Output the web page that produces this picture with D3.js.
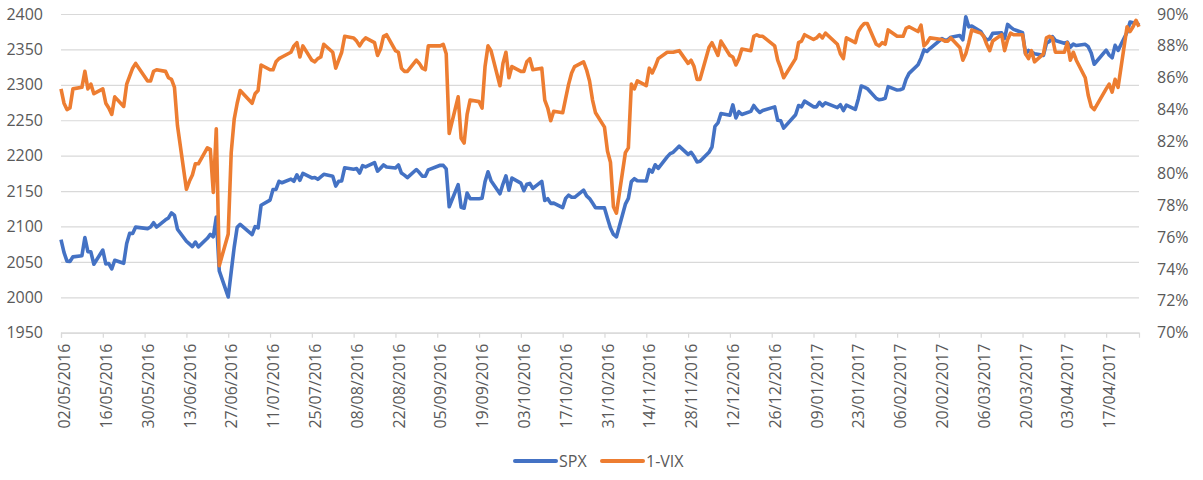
<!DOCTYPE html>
<html>
<head>
<meta charset="utf-8">
<script src="https://cdn.jsdelivr.net/npm/d3@7"></script>
<style>
  body { margin: 0; background: #fff; }
  svg text { font-family: "Open Sans", sans-serif; fill: #595959; }
</style>
</head>
<body>
<div id="chart"></div>
<script>
(function(){
// trading days, one line per month
var dates = [
  "02/05/2016","03/05/2016","04/05/2016","05/05/2016","06/05/2016","09/05/2016","10/05/2016","11/05/2016","12/05/2016","13/05/2016","16/05/2016","17/05/2016","18/05/2016","19/05/2016","20/05/2016","23/05/2016","24/05/2016","25/05/2016","26/05/2016","27/05/2016","31/05/2016",
  "01/06/2016","02/06/2016","03/06/2016","06/06/2016","07/06/2016","08/06/2016","09/06/2016","10/06/2016","13/06/2016","14/06/2016","15/06/2016","16/06/2016","17/06/2016","20/06/2016","21/06/2016","22/06/2016","23/06/2016","24/06/2016","27/06/2016","28/06/2016","29/06/2016","30/06/2016",
  "01/07/2016","05/07/2016","06/07/2016","07/07/2016","08/07/2016","11/07/2016","12/07/2016","13/07/2016","14/07/2016","15/07/2016","18/07/2016","19/07/2016","20/07/2016","21/07/2016","22/07/2016","25/07/2016","26/07/2016","27/07/2016","28/07/2016","29/07/2016",
  "01/08/2016","02/08/2016","03/08/2016","04/08/2016","05/08/2016","08/08/2016","09/08/2016","10/08/2016","11/08/2016","12/08/2016","15/08/2016","16/08/2016","17/08/2016","18/08/2016","19/08/2016","22/08/2016","23/08/2016","24/08/2016","25/08/2016","26/08/2016","29/08/2016","30/08/2016","31/08/2016",
  "01/09/2016","02/09/2016","06/09/2016","07/09/2016","08/09/2016","09/09/2016","12/09/2016","13/09/2016","14/09/2016","15/09/2016","16/09/2016","19/09/2016","20/09/2016","21/09/2016","22/09/2016","23/09/2016","26/09/2016","27/09/2016","28/09/2016","29/09/2016","30/09/2016",
  "03/10/2016","04/10/2016","05/10/2016","06/10/2016","07/10/2016","10/10/2016","11/10/2016","12/10/2016","13/10/2016","14/10/2016","17/10/2016","18/10/2016","19/10/2016","20/10/2016","21/10/2016","24/10/2016","25/10/2016","26/10/2016","27/10/2016","28/10/2016","31/10/2016",
  "01/11/2016","02/11/2016","03/11/2016","04/11/2016","07/11/2016","08/11/2016","09/11/2016","10/11/2016","11/11/2016","14/11/2016","15/11/2016","16/11/2016","17/11/2016","18/11/2016","21/11/2016","22/11/2016","23/11/2016","25/11/2016","28/11/2016","29/11/2016","30/11/2016",
  "01/12/2016","02/12/2016","05/12/2016","06/12/2016","07/12/2016","08/12/2016","09/12/2016","12/12/2016","13/12/2016","14/12/2016","15/12/2016","16/12/2016","19/12/2016","20/12/2016","21/12/2016","22/12/2016","23/12/2016","27/12/2016","28/12/2016","29/12/2016","30/12/2016",
  "03/01/2017","04/01/2017","05/01/2017","06/01/2017","09/01/2017","10/01/2017","11/01/2017","12/01/2017","13/01/2017","17/01/2017","18/01/2017","19/01/2017","20/01/2017","23/01/2017","24/01/2017","25/01/2017","26/01/2017","27/01/2017","30/01/2017","31/01/2017",
  "01/02/2017","02/02/2017","03/02/2017","06/02/2017","07/02/2017","08/02/2017","09/02/2017","10/02/2017","13/02/2017","14/02/2017","15/02/2017","16/02/2017","17/02/2017","21/02/2017","22/02/2017","23/02/2017","24/02/2017","27/02/2017","28/02/2017",
  "01/03/2017","02/03/2017","03/03/2017","06/03/2017","07/03/2017","08/03/2017","09/03/2017","10/03/2017","13/03/2017","14/03/2017","15/03/2017","16/03/2017","17/03/2017","20/03/2017","21/03/2017","22/03/2017","23/03/2017","24/03/2017","27/03/2017","28/03/2017","29/03/2017","30/03/2017","31/03/2017",
  "03/04/2017","04/04/2017","05/04/2017","06/04/2017","07/04/2017","10/04/2017","11/04/2017","12/04/2017","13/04/2017","17/04/2017","18/04/2017","19/04/2017","20/04/2017","21/04/2017","24/04/2017","25/04/2017","26/04/2017","27/04/2017","28/04/2017"
];

var spx = [
  2081.4,2063.4,2051.1,2050.6,2057.1,2058.7,2084.4,2064.5,2064.1,2046.6,2066.7,2047.2,2047.6,2040.0,2052.3,2048.0,2076.1,2090.5,2090.1,2099.1,2097.0,
  2099.3,2105.3,2099.1,2109.4,2112.1,2119.1,2115.5,2096.1,2079.1,2075.3,2071.5,2078.0,2071.2,2083.3,2088.9,2085.5,2113.3,2037.4,2000.5,2036.1,2070.8,2098.9,
  2103.0,2088.6,2099.7,2097.9,2129.9,2137.2,2152.1,2152.4,2163.8,2161.7,2166.9,2163.8,2173.0,2165.2,2175.0,2168.5,2169.2,2166.6,2170.1,2173.6,
  2170.8,2157.0,2163.8,2164.3,2182.9,2180.9,2181.7,2175.5,2185.8,2184.1,2190.2,2178.2,2182.2,2187.0,2183.9,2182.6,2186.9,2175.4,2172.5,2169.0,2180.4,2176.1,2171.0,
  2170.9,2180.0,2186.5,2186.2,2181.3,2127.8,2159.0,2127.0,2125.8,2147.3,2139.2,2139.1,2139.8,2163.1,2177.2,2164.7,2146.1,2159.9,2171.4,2151.1,2168.3,
  2161.2,2150.5,2159.7,2160.8,2153.7,2163.7,2136.7,2139.2,2132.6,2133.0,2126.5,2139.6,2144.3,2141.3,2141.2,2151.3,2143.2,2139.4,2133.0,2126.4,2126.2,
  2111.7,2097.9,2088.7,2085.2,2131.5,2139.6,2163.3,2167.5,2164.5,2164.2,2180.4,2176.9,2187.1,2181.9,2198.2,2202.9,2204.7,2213.4,2201.7,2204.7,2198.8,
  2191.1,2192.0,2204.7,2212.2,2241.4,2246.2,2259.5,2257.0,2271.7,2253.3,2262.0,2258.1,2262.5,2270.8,2265.2,2261.0,2263.8,2268.9,2249.9,2249.3,2238.8,
  2257.8,2270.8,2269.0,2277.0,2268.9,2268.9,2275.3,2270.4,2274.6,2267.9,2271.9,2263.7,2271.3,2265.2,2280.1,2298.4,2296.7,2294.7,2280.9,2278.9,
  2279.6,2280.9,2297.4,2292.6,2293.1,2294.7,2307.9,2316.1,2328.3,2337.6,2349.3,2347.2,2351.2,2365.4,2362.8,2363.8,2367.3,2369.7,2363.6,
  2396.0,2381.9,2383.1,2375.3,2368.4,2363.0,2364.9,2372.6,2373.5,2365.5,2385.3,2381.4,2378.3,2373.5,2344.0,2348.5,2346.0,2344.0,2341.6,2358.6,2361.1,2368.1,2362.7,
  2358.8,2360.2,2353.0,2357.5,2355.5,2357.2,2353.8,2344.9,2329.0,2349.0,2342.2,2338.2,2355.8,2348.7,2374.2,2388.6,2387.5,2388.8,2384.2
];

// 1-VIX in percent
var oneMinusVix = [
  85.3,84.4,84.0,84.1,85.3,85.4,86.4,85.3,85.6,85.0,85.3,84.4,84.1,83.7,84.8,84.2,85.6,86.1,86.6,86.9,85.8,
  85.8,86.4,86.5,86.4,86.0,85.9,85.4,83.0,79.0,79.5,79.9,80.6,80.6,81.6,81.5,78.8,82.8,74.2,76.2,81.3,83.4,84.4,
  85.2,84.4,85.0,85.2,86.8,86.5,86.5,87.0,87.2,87.3,87.6,88.0,88.2,87.3,88.0,87.1,87.0,87.2,87.3,88.1,
  87.6,86.6,87.1,87.6,88.6,88.5,88.3,88.0,88.3,88.5,88.2,87.4,87.8,88.6,88.7,87.7,87.6,86.6,86.4,86.4,87.1,86.9,86.6,
  86.5,88.0,88.0,88.1,87.5,82.5,84.8,82.2,81.9,83.7,84.6,84.5,84.1,86.7,88.0,87.7,85.5,86.9,87.6,86.0,86.7,
  86.4,86.4,87.0,87.2,86.5,86.6,84.6,84.1,83.3,83.9,83.8,84.7,85.6,86.3,86.7,87.0,86.5,85.8,84.6,83.8,82.9,
  81.4,80.7,77.9,77.5,81.3,81.6,85.6,85.3,85.8,85.5,86.6,86.3,86.7,87.2,87.6,87.6,87.6,87.7,86.9,87.1,86.7,
  85.9,85.9,87.9,88.2,87.8,87.4,88.3,87.4,87.3,86.8,87.2,87.8,87.7,88.6,88.7,88.6,88.6,88.0,87.1,86.6,86.0,
  87.2,88.2,88.3,88.7,88.4,88.5,88.7,88.5,88.8,88.1,87.5,87.2,88.5,88.2,88.9,89.2,89.4,89.4,88.1,88.0,
  88.2,88.1,89.0,88.6,88.6,88.6,89.1,89.2,88.9,89.3,88.0,88.2,88.5,88.4,88.3,88.3,88.5,87.9,87.1,
  87.5,88.2,89.0,88.8,88.6,88.1,87.7,88.3,88.7,87.7,88.4,88.8,88.7,88.7,87.5,87.2,87.7,87.0,87.5,88.5,88.6,88.5,87.6,
  87.6,88.2,87.1,87.6,87.1,86.0,84.9,84.2,84.0,85.3,85.6,85.1,85.9,85.4,89.2,88.9,89.2,89.6,89.2
];

var xTickLabels = ["02/05/2016","16/05/2016","30/05/2016","13/06/2016","27/06/2016","11/07/2016","25/07/2016",
  "08/08/2016","22/08/2016","05/09/2016","19/09/2016","03/10/2016","17/10/2016","31/10/2016","14/11/2016",
  "28/11/2016","12/12/2016","26/12/2016","09/01/2017","23/01/2017","06/02/2017","20/02/2017","06/03/2017",
  "20/03/2017","03/04/2017","17/04/2017"];
var spxTicks = [1950, 2000, 2050, 2100, 2150, 2200, 2250, 2300, 2350, 2400];
var vixTicks = [70, 72, 74, 76, 78, 80, 82, 84, 86, 88, 90];

var seriesNames = ["SPX", "1-VIX"];
var colors = ["#4472C4", "#ED7D31"];

var margin = { top: 14, right: 64, bottom: 147.3, left: 61 },
    width = 1203 - margin.left - margin.right,
    height = 480 - margin.top - margin.bottom;

var parse = d3.timeParse("%d/%m/%Y");
var data = dates.map(function (d, i) {
  return { date: parse(d), spx: spx[i], vix: oneMinusVix[i] };
});

var svg = d3.select("#chart")
  .append("svg")
  .attr("width", 1203)
  .attr("height", 480)
  .append("g")
  .attr("transform", "translate(" + margin.left + "," + margin.top + ")");

var x = d3.scaleTime()
  .domain(d3.extent(data, function (d) { return d.date; }))
  .range([0, width]);
var yL = d3.scaleLinear().domain([1950, 2400]).range([height, 0]);
var yR = d3.scaleLinear().domain([70, 90]).range([height, 0]);

// gridlines
svg.append("g")
  .attr("class", "grid")
  .call(d3.axisLeft(yL).tickValues(spxTicks).tickSize(-width).tickFormat(""))
  .call(function (g) { g.select(".domain").remove(); })
  .selectAll("line")
  .attr("stroke", "#D9D9D9")
  .attr("stroke-width", 1.2);

// left axis
svg.append("g")
  .call(d3.axisLeft(yL).tickValues(spxTicks).tickSize(0).tickPadding(18)
    .tickFormat(d3.format("d")))
  .call(function (g) { g.select(".domain").remove(); })
  .selectAll("text")
  .style("font-size", "16px")
  .attr("fill", "#595959");

// right axis
svg.append("g")
  .attr("transform", "translate(" + width + ",0)")
  .call(d3.axisRight(yR).tickValues(vixTicks).tickSize(0).tickPadding(18)
    .tickFormat(function (d) { return d + "%"; }))
  .call(function (g) { g.select(".domain").remove(); })
  .selectAll("text")
  .style("font-size", "16px")
  .attr("fill", "#595959");

// x axis
var xAxis = svg.append("g")
  .attr("transform", "translate(0," + height + ")")
  .call(d3.axisBottom(x)
    .tickValues(xTickLabels.map(parse))
    .tickSize(5)
    .tickFormat(d3.timeFormat("%d/%m/%Y")));
xAxis.select(".domain").attr("stroke", "#D9D9D9").attr("stroke-width", 1.2);
xAxis.selectAll(".tick line").attr("stroke", "#D9D9D9").attr("stroke-width", 1.2);
xAxis.selectAll("text")
  .attr("transform", "rotate(-90)")
  .attr("x", -11)
  .attr("y", 3)
  .attr("dy", "0.35em")
  .style("text-anchor", "end")
  .style("font-size", "16px")
  .attr("fill", "#595959");

// lines
svg.append("path")
  .datum(data)
  .attr("fill", "none")
  .attr("stroke", colors[0])
  .attr("stroke-width", 3.6)
  .attr("stroke-linejoin", "round")
  .attr("d", d3.line()
    .x(function (d) { return x(d.date); })
    .y(function (d) { return yL(d.spx); }));

svg.append("path")
  .datum(data)
  .attr("fill", "none")
  .attr("stroke", colors[1])
  .attr("stroke-width", 3.6)
  .attr("stroke-linejoin", "round")
  .attr("d", d3.line()
    .x(function (d) { return x(d.date); })
    .y(function (d) { return yR(d.vix); }));

// legend
var legendX = [515, 602];
var legend = d3.select("svg").append("g");
seriesNames.forEach(function (name, i) {
  legend.append("line")
    .attr("x1", legendX[i]).attr("x2", legendX[i] + 41)
    .attr("y1", 461).attr("y2", 461)
    .attr("stroke", colors[i])
    .attr("stroke-width", 4)
    .attr("stroke-linecap", "round");
  legend.append("text")
    .attr("x", legendX[i] + 44)
    .attr("y", 461)
    .attr("dy", "0.35em")
    .style("font-size", "16px")
    .text(name);
});
})();
</script>
</body>
</html>
